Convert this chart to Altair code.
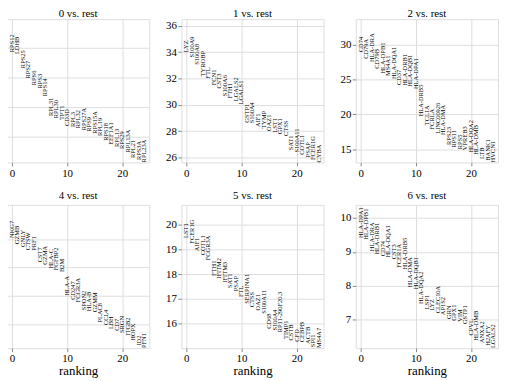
import altair as alt
import pandas as pd

FONT = "Liberation Serif"

titles = ["0 vs. rest", "1 vs. rest", "2 vs. rest", "4 vs. rest", "5 vs. rest", "6 vs. rest"]

genes_0 = ["RPS12", "LDHB", "RPS25", "RPS27", "RPS6", "RPS3", "RPS14", "RPL31", "RPL30", "TPT1",
           "CD3D", "RPL3", "RPL32", "RPS27A", "RPS9", "RPS15A", "RPL19", "RPS18", "EEF1A1", "RPL13",
           "RPS29", "RPL13A", "RPL21", "RPS3A", "RPL23A"]
scores_0 = [31.73, 31.60, 30.65, 29.94, 29.49, 29.27, 28.75, 27.40, 27.25, 27.13,
            26.73, 26.66, 26.57, 26.44, 26.34, 26.21, 26.05, 25.72, 25.45, 25.31,
            25.16, 24.93, 24.55, 24.42, 24.26]

genes_1 = ["LYZ", "S100A9", "S100A8", "TYROBP", "FTL", "FCN1", "CST3", "S100A6", "FTH1", "LGALS2",
           "LGALS1", "GSTP1", "S100A4", "AIF1", "TYMP", "OAZ1", "LST1", "GPX1", "CTSS", "SAT1",
           "S100A11", "COTL1", "PSAP", "FCER1G", "CYBA"]
scores_1 = [33.99, 33.59, 33.04, 32.16, 31.98, 31.48, 31.23, 30.65, 30.48, 30.27,
            30.02, 28.64, 28.59, 28.31, 28.19, 28.01, 27.88, 27.76, 27.63, 26.55,
            26.37, 26.20, 26.00, 25.80, 25.62]

genes_2 = ["CD74", "CD79A", "HLA-DRA", "CD79B", "HLA-DPB1", "MS4A1", "HLA-DQA1", "CD37", "HLA-DRB1", "HLA-DQB1",
           "HLA-DPA1", "HLA-DRB5", "TCL1A", "FCRLA", "LINC00926", "HLA-DMA", "RPS23", "RPS11", "RPS5", "VPREB3",
           "HLA-DQA2", "HLA-DMB", "LTB", "BANK1", "HVCN1"]
scores_2 = [28.96, 28.01, 27.54, 26.59, 25.88, 25.55, 25.09, 24.23, 24.13, 23.99,
            23.66, 19.73, 18.45, 17.84, 17.22, 17.03, 15.61, 15.23, 15.00, 14.86,
            14.52, 14.19, 13.58, 13.34, 13.10]

genes_4 = ["NKG7", "GZMB", "GNLY", "CTSW", "PRF1", "CST7", "GZMA", "HLA-C", "FGFBP2", "B2M",
           "HLA-A", "CD247", "FCGR3A", "SPON2", "HLA-B", "GZMM", "PLAC8", "CCL4", "LBH", "CD7",
           "SRGN", "ITGB2", "HOPX", "ID2", "PFN1"]
scores_4 = [19.04, 18.82, 18.72, 18.61, 18.59, 18.18, 18.10, 17.96, 17.90, 17.84,
            17.00, 16.86, 16.77, 16.49, 16.46, 16.42, 16.06, 15.97, 15.83, 15.77,
            15.69, 15.60, 15.42, 15.25, 15.16]

genes_5 = ["LST1", "FCER1G", "AIF1", "COTL1", "FCGR3A", "FTH1", "IFITM2", "IFITM3", "SAT1", "PSAP",
           "FTL", "SERPINA1", "CTSS", "OAZ1", "S100A11", "CD68", "S100A4", "RP11-290F20.3", "TIMP1", "CSTB",
           "CFD", "CEBPB", "ACTB", "SPI1", "MS4A7"]
scores_5 = [19.46, 19.23, 18.92, 18.76, 18.56, 17.93, 17.82, 17.66, 17.44, 17.31,
            17.08, 16.81, 16.67, 16.54, 16.40, 15.80, 15.73, 15.66, 15.39, 15.33,
            15.28, 15.26, 15.19, 15.06, 15.02]

genes_6 = ["HLA-DPA1", "HLA-DPB1", "HLA-DRA", "HLA-DRB1", "CD74", "HLA-DQA1", "CST3", "FCER1A", "HLA-DRB5", "HLA-DMA",
           "HLA-DQB1", "HLA-DQA2", "LSP1", "LYZ", "CLEC10A", "AP1S2", "GRN", "GPX1", "VIM", "GSTP1",
           "CPVL", "HLA-DMB", "ANXA2", "H2AFY", "LGALS2"]
scores_6 = [9.41, 9.36, 9.02, 8.92, 8.87, 8.83, 8.78, 8.53, 8.48, 7.95,
            7.90, 7.46, 7.31, 7.26, 7.19, 7.13, 7.02, 6.97, 6.94, 6.87,
            6.53, 6.38, 6.31, 6.23, 6.16]

y_ticks = [
    [26, 28, 30, 32],
    [26, 28, 30, 32, 34, 36],
    [15, 20, 25, 30],
    [16, 17, 18, 19],
    [16, 17, 18, 19, 20],
    [7, 8, 9, 10],
]
x_ticks = [0, 10, 20]

W, H = 144, 145


def panel(title, genes, scores, yvals, show_ylabels, show_xtitle, title_offset):
    df = pd.DataFrame({"rank": list(range(len(genes))), "score": scores, "gene": genes})
    lo, hi = min(scores), max(scores)
    dom = [lo, hi + 0.3 * (hi - lo)]
    xaxis_kw = dict(values=x_ticks, grid=True, domain=False, labelFontSize=11,
                    tickSize=3.5, labelPadding=1.5, labelFont=FONT, labelColor="black")
    if show_xtitle:
        xaxis_kw.update(title="ranking", titleFont=FONT, titleFontSize=13,
                        titleFontWeight="normal", titleColor="black", titlePadding=1)
    else:
        xaxis_kw.update(title="")
    yaxis_kw = dict(values=yvals, grid=True, domain=False, title="", labelFontSize=11,
                    labelFont=FONT, labelColor="black", labelPadding=1.5)
    if show_ylabels:
        yaxis_kw.update(tickSize=3.5)
    else:
        yaxis_kw.update(labels=False, ticks=False)
    return alt.Chart(df).mark_text(
        angle=270, align="left", baseline="middle", font=FONT, fontSize=6.5, color="black"
    ).encode(
        x=alt.X("rank:Q", scale=alt.Scale(domain=[-0.9, 24.9], nice=False, zero=False),
                axis=alt.Axis(**xaxis_kw)),
        y=alt.Y("score:Q", scale=alt.Scale(domain=dom, nice=False, zero=False),
                axis=alt.Axis(**yaxis_kw)),
        text="gene:N",
    ).properties(
        width=W, height=H,
        title=alt.TitleParams(title, font=FONT, fontSize=11, fontWeight="normal",
                              color="black", anchor="middle", offset=title_offset),
    )


p0 = panel(titles[0], genes_0, scores_0, y_ticks[0], False, False, 0)
p1 = panel(titles[1], genes_1, scores_1, y_ticks[1], True, False, 0)
p2 = panel(titles[2], genes_2, scores_2, y_ticks[2], True, False, 0)
p4 = panel(titles[3], genes_4, scores_4, y_ticks[3], False, True, 4)
p5 = panel(titles[4], genes_5, scores_5, y_ticks[4], True, True, 4)
p6 = panel(titles[5], genes_6, scores_6, y_ticks[5], True, True, 4)

chart = alt.concat(
    p0, p1, p2, p4, p5, p6, columns=3,
    spacing={"row": 43, "column": 32.5}, bounds="flush"
).properties(
    padding={"left": -2, "top": -3, "right": 0, "bottom": 0}
).configure_view(
    stroke="#333333", strokeWidth=1
).configure_axis(
    gridColor="#d9d9d9", gridWidth=0.8, tickColor="#333333", tickWidth=0.8
).configure(background="white")

chart.save("out.html", embed_options={"renderer": "svg", "actions": False})
